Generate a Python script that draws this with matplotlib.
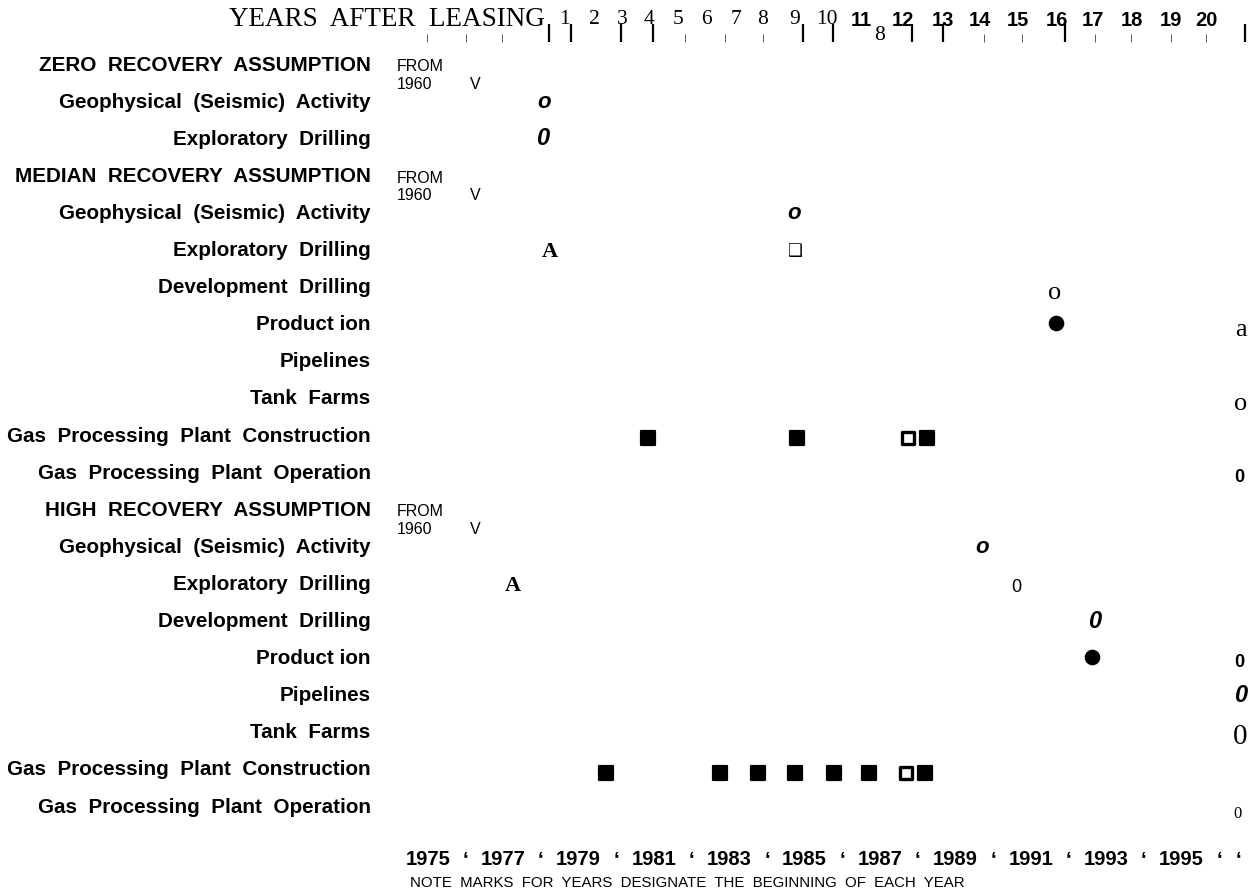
import matplotlib
matplotlib.use('Agg')
import matplotlib.pyplot as plt
import matplotlib.transforms as mtransforms

# Row labels, top to bottom
row_labels = [
    'ZERO  RECOVERY  ASSUMPTION',
    'Geophysical  (Seismic)  Activity',
    'Exploratory  Drilling',
    'MEDIAN  RECOVERY  ASSUMPTION',
    'Geophysical  (Seismic)  Activity',
    'Exploratory  Drilling',
    'Development  Drilling',
    'Product ion',
    'Pipelines',
    'Tank  Farms',
    'Gas  Processing  Plant  Construction',
    'Gas  Processing  Plant  Operation',
    'HIGH  RECOVERY  ASSUMPTION',
    'Geophysical  (Seismic)  Activity',
    'Exploratory  Drilling',
    'Development  Drilling',
    'Product ion',
    'Pipelines',
    'Tank  Farms',
    'Gas  Processing  Plant  Construction',
    'Gas  Processing  Plant  Operation',
]
header_rows = [0, 3, 12]

# Marks: row index and calendar year (beginning of year marks)
bi_o_rows = [1, 4, 13]
bi_o_years = [1978.1, 1984.73, 1989.72]
bi_zero_rows = [2, 15, 17]
bi_zero_years = [1978.05, 1992.69, 1996.57]
serif_a_cap_rows = [5, 14]
serif_a_cap_years = [1978.24, 1977.25]
box_rows = [5]
box_years = [1984.73]
serif_o_rows = [6, 9]
serif_o_years = [1991.63, 1996.57]
dot_rows = [7, 16]
dot_years = [1991.68, 1992.61]
serif_a_rows = [7]
serif_a_years = [1996.57]
bold_zero_rows = [11, 16]
bold_zero_years = [1996.54, 1996.54]
sans_zero_rows = [14]
sans_zero_years = [1990.62]
big_zero_rows = [18]
big_zero_years = [1996.54]
small_zero_rows = [20]
small_zero_years = [1996.49]

# Gas processing plant construction squares
median_sq_years = [1980.85, 1984.8, 1988.25]
median_open_years = [1987.73]
high_sq_years = [1979.72, 1982.75, 1983.75, 1984.75, 1985.77, 1986.72, 1988.2]
high_open_years = [1987.68]

# "FROM 1960" marks
from_year = 1974.18
v_year = 1976.27

# Top scale (years after leasing), garbled positions as printed
top_num_labels = ['1', '2', '3', '4', '5', '6', '7', '8', '9', '10']
top_num_years = [1978.63, 1979.43, 1980.15, 1980.86, 1981.63, 1982.40,
                 1983.17, 1983.89, 1984.73, 1985.58]
top_bold_labels = ['11', '12', '13', '14', '15', '16', '17', '18', '19', '20']
top_bold_years = [1986.51, 1987.60, 1988.66, 1989.64, 1990.65, 1991.68,
                  1992.64, 1993.67, 1994.71, 1995.66]
top_thick_ticks = [1978.21, 1978.79, 1980.12, 1980.97, 1984.95, 1985.74,
                   1987.84, 1988.66, 1991.90, 1996.67]
top_thin_ticks = [1974.97, 1976.01, 1976.96, 1981.82, 1982.88, 1983.89,
                  1989.75, 1990.76, 1992.69, 1993.67, 1994.71, 1995.66]

# Bottom calendar scale
bottom_years = list(range(1975, 1997)) + [1996.5]
bottom_labels = [str(y) if y % 2 == 1 else '\u2018' for y in range(1975, 1997)] + ['\u2018']

SANS = 'Liberation Sans'
SERIF = 'Liberation Serif'

W, H = 1257, 893
fig = plt.figure(figsize=(W / 100, H / 100), dpi=100)
ax_left, ax_top, ax_bottom = 390, 42, 840
ax = fig.add_axes([ax_left / W, 1 - ax_bottom / H, 1 - ax_left / W, (ax_bottom - ax_top) / H])
ax.set_xlim(1974, 1997)
ax.set_ylim((ax_bottom - 63) / 37.1, (ax_top - 63) / 37.1)
for s in ax.spines.values():
    s.set_visible(False)

# Row labels as y tick labels
ax.set_yticks(range(len(row_labels)))
ax.set_yticklabels(row_labels, fontfamily=SANS, fontweight='bold', fontsize=14.9)
ax.tick_params(axis='y', length=0, pad=14)

# Bottom year labels
ax.set_xticks(bottom_years)
ax.set_xticklabels(bottom_labels, fontfamily=SANS, fontweight='bold', fontsize=14.5)
ax.tick_params(axis='x', length=0, pad=7)

# Top tick marks
top = ax.secondary_xaxis('top')
top.set_xticks(top_thick_ticks)
top.set_xticks(top_thin_ticks, minor=True)
top.set_xticklabels([])
top.tick_params(which='major', length=13, width=1.6, direction='out')
top.tick_params(which='minor', length=6, width=0.7, direction='out', color='#555555')
top.spines['top'].set_visible(False)

# Top labels
trans = mtransforms.blended_transform_factory(ax.transData, fig.transFigure)
fig.text(229 / W, 1 - 19 / H, 'YEARS  AFTER  LEASING', fontfamily=SERIF, fontsize=19.5,
         ha='left', va='center')
for lab, x in zip(top_num_labels, top_num_years):
    ax.text(x, 1 - 20 / H, lab, transform=trans, fontfamily=SERIF, fontsize=15.5,
            ha='center', va='center')
for lab, x in zip(top_bold_labels, top_bold_years):
    ax.text(x, 1 - 20 / H, lab, transform=trans, fontfamily=SANS, fontweight='bold',
            fontsize=14.5, ha='center', va='center')
ax.text(1986.99, 1 - 36 / H, '8', transform=trans, fontfamily=SERIF, fontsize=15.5,
        ha='center', va='center')

# FROM 1960 markers on header rows
for r in header_rows:
    ax.text(from_year, r + 0.1, 'FROM', fontfamily=SANS, fontsize=11.5, ha='left', va='center')
    ax.text(from_year, r + 0.57, '1960', fontfamily=SANS, fontsize=11.5, ha='left', va='center')
    ax.text(v_year, r + 0.57, 'V', fontfamily=SANS, fontsize=11.5, ha='center', va='center')


def put_glyphs(years, rows, glyph, dy=0.1, **kw):
    for x, r in zip(years, rows):
        ax.text(x, r + dy, glyph, ha='center', va='center_baseline', **kw)


put_glyphs(bi_o_years, bi_o_rows, 'o', dy=-0.01, fontfamily=SANS, fontweight='bold', style='italic', fontsize=16)
put_glyphs(bi_zero_years, bi_zero_rows, '0', dy=-0.02, fontfamily=SANS, fontweight='bold', style='italic', fontsize=17)
put_glyphs(serif_a_cap_years, serif_a_cap_rows, 'A', dy=0.02, fontfamily=SERIF, fontweight='bold', fontsize=16)
put_glyphs(box_years, box_rows, '\u2751', dy=0.02, fontfamily='DejaVu Sans', fontsize=12)
put_glyphs(serif_o_years, serif_o_rows, 'o', dy=0.12, fontfamily=SERIF, fontsize=19)
put_glyphs(serif_a_years, serif_a_rows, 'a', dy=0.14, fontfamily=SERIF, fontsize=19)
put_glyphs(bold_zero_years, bold_zero_rows, '0', dy=0.11, fontfamily=SANS, fontweight='bold', fontsize=13)
put_glyphs(sans_zero_years, sans_zero_rows, '0', dy=0.08, fontfamily=SANS, fontsize=13)
put_glyphs(big_zero_years, big_zero_rows, '0', dy=0.08, fontfamily=SERIF, fontsize=21)
put_glyphs(small_zero_years, small_zero_rows, '0', dy=0.18, fontfamily=SERIF, fontsize=12)

# Production dots
ax.scatter(dot_years, dot_rows, s=105, color='black', zorder=3)

# Gas processing plant construction squares (rounded corners like the print)
sq_kw = dict(marker='s', s=115, facecolor='black', edgecolor='black', linewidth=1.6,
             joinstyle='round', zorder=3)
open_kw = dict(marker='s', s=70, facecolor='white', edgecolor='black', linewidth=2.4,
               joinstyle='round', zorder=3)
ax.scatter(median_sq_years, [10.1] * len(median_sq_years), **sq_kw)
ax.scatter(median_open_years, [10.1] * len(median_open_years), **open_kw)
ax.scatter(high_sq_years, [19.13] * len(high_sq_years), **sq_kw)
ax.scatter(high_open_years, [19.13] * len(high_open_years), **open_kw)

fig.text(410 / W, 1 - 883 / H, 'NOTE  MARKS  FOR  YEARS  DESIGNATE  THE  BEGINNING  OF  EACH  YEAR',
         fontfamily=SANS, fontsize=10.8, ha='left', va='center')

fig.savefig('out.png', dpi=100)
plt.close(fig)
